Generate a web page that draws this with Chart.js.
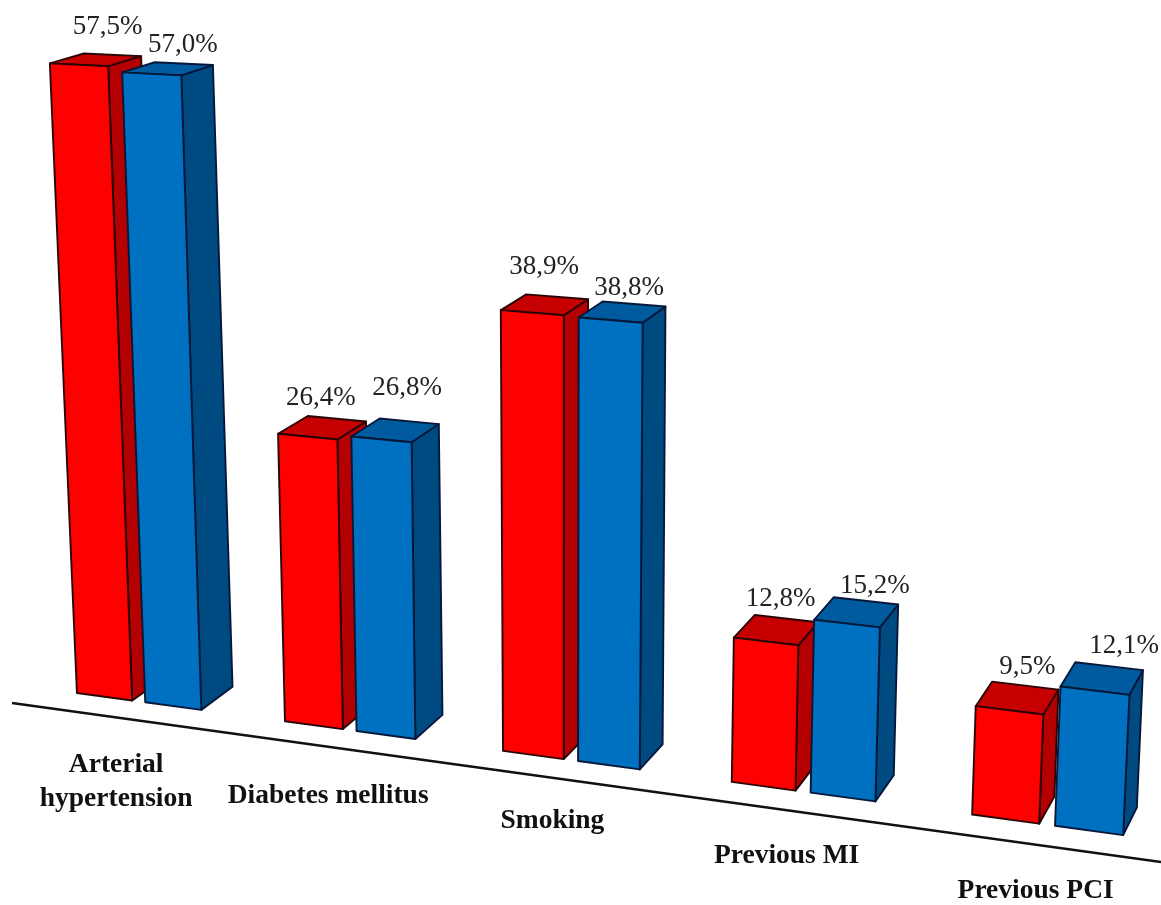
<!DOCTYPE html>
<html><head><meta charset="utf-8">
<style>html,body{margin:0;padding:0;background:#fff}canvas{display:block}</style>
<script src="https://cdn.jsdelivr.net/npm/chart.js@4"></script>
</head><body>
<canvas id="c" width="1161" height="905"></canvas>
<script>
const categories = [["Arterial","hypertension"],"Diabetes mellitus","Smoking","Previous MI","Previous PCI"];
const seriesA = [57.5,26.4,38.9,12.8,9.5];
const seriesB = [57.0,26.8,38.8,15.2,12.1];

const styleA = {front:'#FF0000', top:'#C60000', side:'#B40000', line:'#2a0505'};
const styleB = {front:'#0070C0', top:'#005A9E', side:'#004A82', line:'#06183a'};
const valueNudge = [
  [[-5,-28],[-16,-21],[-13,-30],[-6,-20],[2,-19]],
  [[-1,-19],[-2,-33],[-5,-16],[9,-15],[15,-20]]
];
const categoryNudge = [[-23,63],[-22,66],[-19,61],[-17,64],[-12,66]];
const perspectiveScale = [11.04,10.98,11.42,11.36,11.5];
const serif = '"Liberation Serif","Times New Roman",serif';

let cur = null;
let queue = [];
function kOf(px){
  const s = cur.scales.x;
  const c0 = s.getPixelForValue(0), step = s.getPixelForValue(1) - c0;
  return (px - c0) / step + 0.3015;
}
// perspective view of the chart's front plane
function project(px, v){
  const k = kOf(px);
  const g = Math.max(0, Math.min(4, Math.floor(k + 0.1)));
  const X0 = (201.5*k + 77) / (1 - 0.02294*k);
  const Y0 = 693 + 0.1358*(X0 - 77);
  const h = v * (perspectiveScale[g] + 0.3*(k - g - 0.3));
  return [X0 + (-0.043 + 0.019*k)*h, Y0 - h];
}
function back(p){
  return [p[0] + 35 - 0.019*p[0], p[1] - (8.5 + 0.02*p[1] + 0.002*p[0])];
}
function poly(ctx, pts, fill, line){
  ctx.beginPath();
  pts.forEach((p,i)=> i ? ctx.lineTo(p[0],p[1]) : ctx.moveTo(p[0],p[1]));
  ctx.closePath();
  ctx.fillStyle = fill; ctx.fill();
  ctx.strokeStyle = line; ctx.lineWidth = 1.9; ctx.lineJoin = 'round'; ctx.stroke();
}
function corners(el){
  const {x,y,width} = el.getProps(['x','y','width'], true);
  const v = cur.scales.y.getValueForPixel(y);
  const tl = project(x-width/2, v), tr = project(x+width/2, v);
  const bl = project(x-width/2, 0), br = project(x+width/2, 0);
  return {tl,tr,bl,br,btl:back(tl),btr:back(tr),bbr:back(br)};
}
class Bar3D extends Chart.BarElement {
  draw(ctx){ queue.push(this); }
}
Bar3D.id = 'bar3d';
Chart.register(Bar3D);
Chart.defaults.datasets.bar.dataElementType = 'bar3d';

const perspective = {
  id:'perspective',
  beforeDraw(chart){ cur = chart; queue = []; },
  beforeDatasetsDraw(chart){
    const ctx = chart.ctx;
    ctx.save();
    ctx.strokeStyle = '#111'; ctx.lineWidth = 2.6;
    ctx.beginPath(); ctx.moveTo(12,703); ctx.lineTo(chart.width,862); ctx.stroke();
    ctx.restore();
  },
  afterDatasetsDraw(chart){
    const ctx = chart.ctx;
    ctx.save();
    queue.sort((a,b)=>a.x-b.x).forEach(el=>{
      const c = corners(el);
      const st = el.options.backgroundColor === styleA.front ? styleA : styleB;
      poly(ctx,[c.tr,c.btr,c.bbr,c.br],st.side,st.line);
      poly(ctx,[c.tl,c.btl,c.btr,c.tr],st.top,st.line);
      poly(ctx,[c.tl,c.tr,c.br,c.bl],st.front,st.line);
    });
    ctx.textAlign = 'center'; ctx.textBaseline = 'middle';
    ctx.font = '27px '+serif; ctx.fillStyle = '#222';
    chart.data.datasets.forEach((ds,d)=>{
      chart.getDatasetMeta(d).data.forEach((el,i)=>{
        const c = corners(el);
        const n = valueNudge[d][i];
        const t = ds.data[i].toFixed(1).replace('.',',') + '%';
        ctx.fillText(t,(c.btl[0]+c.btr[0])/2+n[0],(c.btl[1]+c.btr[1])/2+n[1]);
      });
    });
    ctx.font = 'bold 27.5px '+serif; ctx.fillStyle = '#111';
    chart.data.labels.forEach((lab,i)=>{
      const a = corners(chart.getDatasetMeta(0).data[i]);
      const b = corners(chart.getDatasetMeta(1).data[i]);
      const X0 = (a.bl[0]+b.br[0])/2, Y0 = (a.bl[1]+b.br[1])/2;
      const n = categoryNudge[i];
      [].concat(lab).forEach((line,j)=> ctx.fillText(line, X0+n[0], Y0+n[1]+j*34));
    });
    ctx.restore();
  }
};

new Chart(document.getElementById('c'),{
  type:'bar',
  data:{labels:categories,datasets:[
    {label:'Group 1',data:seriesA,backgroundColor:styleA.front,barPercentage:0.81,categoryPercentage:0.667},
    {label:'Group 2',data:seriesB,backgroundColor:styleB.front,barPercentage:0.81,categoryPercentage:0.667}
  ]},
  options:{
    responsive:false,animation:false,devicePixelRatio:1,
    layout:{padding:{left:30,right:31,top:60,bottom:145}},
    plugins:{legend:{display:false},tooltip:{enabled:false},title:{display:false}},
    scales:{
      x:{display:false,type:'category',offset:true,grid:{display:false}},
      y:{display:false,type:'linear',min:0,max:60,grid:{display:false}}
    }
  },
  plugins:[perspective]
});
</script>
</body></html>
